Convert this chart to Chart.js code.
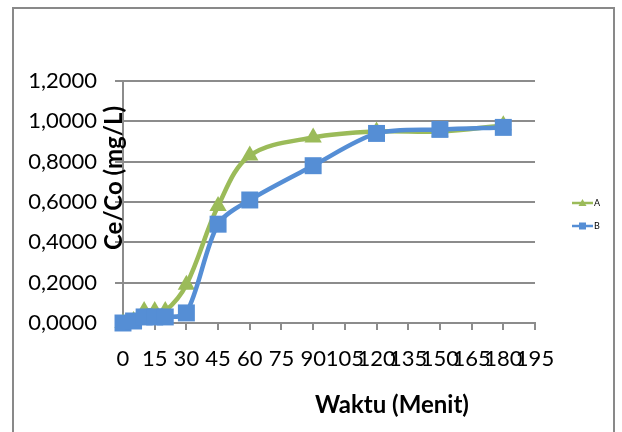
<!DOCTYPE html>
<html>
<head>
<meta charset="utf-8">
<script src="https://cdn.jsdelivr.net/npm/chart.js@4/dist/chart.umd.min.js"></script>
<style>
html,body{margin:0;padding:0;background:#fff;}
canvas{display:block;}
</style>
</head>
<body>
<canvas id="c" width="622" height="432"></canvas>
<script>
const waktu = [0, 5, 10, 15, 20, 30, 45, 60, 90, 120, 150, 180];
const seriesA = [0, 0.01, 0.06, 0.06, 0.06, 0.19, 0.58, 0.83, 0.92, 0.95, 0.95, 0.98];
const seriesB = [0, 0.01, 0.03, 0.03, 0.03, 0.05, 0.49, 0.61, 0.78, 0.94, 0.96, 0.97];
const seriesNames = ['A', 'B'];
const xTitle = 'Waktu (Menit)';
const yTitle = 'Ce/Co (mg/L)';
const yTicks = [0, 0.2, 0.4, 0.6, 0.8, 1.0, 1.2];
const xTicks = [0, 15, 30, 45, 60, 75, 90, 105, 120, 135, 150, 165, 180, 195];

const GREEN = '#9BBB59';
const BLUE = '#558ED5';
const GRID = '#8C8C8C';
const FONT = 'Lato, "Open Sans", sans-serif';

const toPts = (xs, ys) => xs.map((x, i) => ({x: x, y: ys[i]}));

const decor = {
  id: 'decor',
  beforeDraw(chart) {
    const ctx = chart.ctx;
    ctx.save();
    ctx.fillStyle = '#fff';
    ctx.fillRect(0, 0, chart.width, chart.height);
    ctx.strokeStyle = '#898989';
    ctx.lineWidth = 2;
    ctx.strokeRect(13, 8, 601, 440);
    ctx.restore();
  },
  afterDraw(chart) {
    const ctx = chart.ctx;
    ctx.save();
    ctx.fillStyle = '#000';
    ctx.font = 'bold 24px ' + FONT;
    ctx.textAlign = 'center';
    ctx.textBaseline = 'middle';
    ctx.fillText(xTitle, 392, 405);
    ctx.translate(114, 178);
    ctx.rotate(-Math.PI / 2);
    ctx.fillText(yTitle, 0, 0);
    ctx.restore();

    const items = [{name: seriesNames[0], color: GREEN, style: 'triangle', y: 203},
                   {name: seriesNames[1], color: BLUE, style: 'rect', y: 226}];
    items.forEach(it => {
      ctx.save();
      ctx.strokeStyle = it.color;
      ctx.lineWidth = 2.5;
      ctx.beginPath();
      ctx.moveTo(572, it.y);
      ctx.lineTo(593, it.y);
      ctx.stroke();
      ctx.fillStyle = it.color;
      if (it.style === 'rect') {
        ctx.fillRect(579, it.y - 3.5, 7, 7);
      } else {
        ctx.beginPath();
        ctx.moveTo(582.5, it.y - 4);
        ctx.lineTo(586.5, it.y + 3);
        ctx.lineTo(578.5, it.y + 3);
        ctx.closePath();
        ctx.fill();
      }
      ctx.fillStyle = '#000';
      ctx.font = '9px ' + FONT;
      ctx.textAlign = 'left';
      ctx.textBaseline = 'middle';
      ctx.fillText(it.name, 594, it.y);
      ctx.restore();
    });
  }
};

new Chart(document.getElementById('c'), {
  type: 'scatter',
  data: {
    datasets: [
      {
        label: seriesNames[0],
        data: toPts(waktu, seriesA),
        showLine: true,
        borderColor: GREEN,
        backgroundColor: GREEN,
        borderWidth: 4.5,
        tension: 0.35,
        pointStyle: 'triangle',
        pointRadius: 10,
        pointBorderWidth: 0,
        clip: false,
        order: 1
      },
      {
        label: seriesNames[1],
        data: toPts(waktu, seriesB),
        showLine: true,
        borderColor: BLUE,
        backgroundColor: BLUE,
        borderWidth: 4.5,
        tension: 0.3,
        pointStyle: 'rect',
        pointRadius: 12,
        pointBorderWidth: 0,
        clip: false,
        order: 0
      }
    ]
  },
  options: {
    responsive: false,
    animation: false,
    devicePixelRatio: 1,
    layout: {padding: {left: 0, right: 87, top: 81, bottom: 0}},
    plugins: {legend: {display: false}, tooltip: {enabled: false}},
    scales: {
      x: {
        type: 'linear',
        min: 0, max: 195,
        afterBuildTicks: s => { s.ticks = xTicks.map(v => ({value: v})); },
        afterFit: s => { s.height = 109; },
        grid: {display: true, drawOnChartArea: false, drawTicks: true, tickLength: 7, color: GRID, lineWidth: 2},
        border: {display: true, color: GRID, width: 2},
        ticks: {color: '#000', font: {family: FONT, size: 22}, padding: 16, maxRotation: 0, autoSkip: false,
                callback: v => String(v)}
      },
      y: {
        min: 0, max: 1.2,
        afterBuildTicks: s => { s.ticks = yTicks.map(v => ({value: v})); },
        afterFit: s => { s.width = 123; },
        grid: {color: GRID, lineWidth: 2, tickLength: 8, drawTicks: true},
        border: {display: true, color: GRID, width: 2},
        ticks: {color: '#000', font: {family: FONT, size: 22}, padding: 18,
                callback: v => Number(v).toFixed(4).replace('.', ',')}
      }
    }
  },
  plugins: [decor]
});
</script>
</body>
</html>
